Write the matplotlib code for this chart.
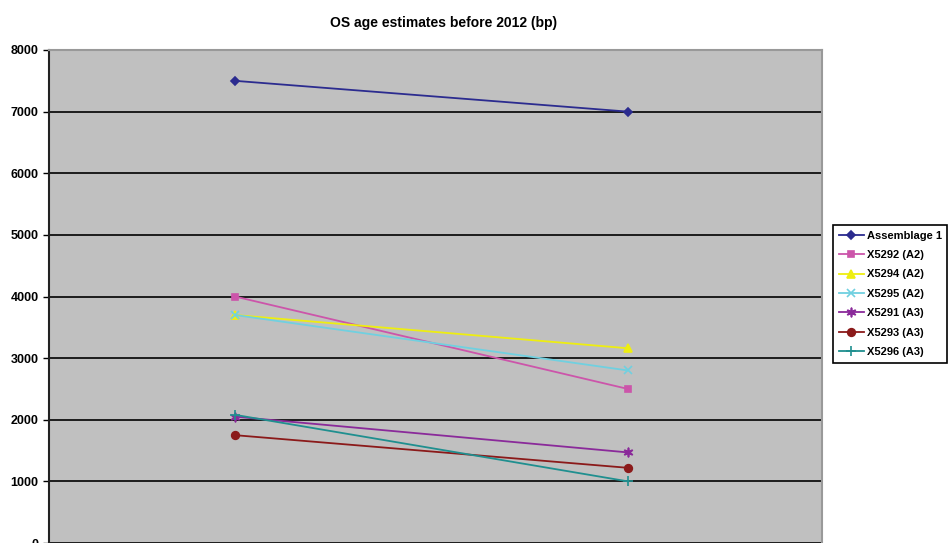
import matplotlib.pyplot as plt

plt.rcParams['font.family'] = ['Liberation Sans', 'DejaVu Sans']

# datos
categorias = [0, 1]
series = ["Assemblage 1", "X5292 (A2)", "X5294 (A2)", "X5295 (A2)",
          "X5291 (A3)", "X5293 (A3)", "X5296 (A3)"]
assemblage1 = [7500, 7000]
x5292 = [4000, 2500]
x5294 = [3700, 3160]
x5295 = [3700, 2800]
x5291 = [2050, 1470]
x5293 = [1750, 1220]
x5296 = [2080, 1000]
valores = [assemblage1, x5292, x5294, x5295, x5291, x5293, x5296]

colores = ["#2b2b8f", "#cc55aa", "#eeee10", "#70d0e0", "#8a2a9a", "#8b1a1a", "#1f8f8f"]
marcadores = ["D", "s", "^", "x", "$\u2736$", "o", "+"]
tamanos = [4.5, 5, 5.5, 5.5, 6.5, 5.5, 7]

fig = plt.figure(figsize=(9.53, 5.43), dpi=100)
ax = fig.add_axes([49 / 953, 0.0, 773 / 953, 493 / 543])
ax.set_facecolor("#c0c0c0")

for nombre, v, c, m, s in zip(series, valores, colores, marcadores, tamanos):
    ax.plot(categorias, v, color=c, marker=m, markersize=s, linewidth=1.3,
            markeredgewidth=1.2, label=nombre)

ax.set_xlim(-0.473, 1.494)
ax.set_ylim(0, 8000)
ax.set_yticks(range(0, 8001, 1000))
ax.set_xticks([])
ax.yaxis.grid(True, color="black", linewidth=1.2)
ax.set_axisbelow(True)
ax.tick_params(axis="y", length=4, width=1, labelsize=9)
for lab in ax.get_yticklabels():
    lab.set_fontweight("bold")
ax.spines["left"].set_color("#222222")
ax.spines["left"].set_linewidth(1.5)
for lado in ["top", "right"]:
    ax.spines[lado].set_color("#999999")
    ax.spines[lado].set_linewidth(1.5)
ax.spines["bottom"].set_visible(False)

fig.text(0.465, 0.957, "OS age estimates before 2012 (bp)", ha="center", va="center",
         fontsize=10, fontweight="bold")

leg = ax.legend(loc="upper left", bbox_to_anchor=(833 / 953, 318 / 543),
                bbox_transform=fig.transFigure, borderaxespad=0, fancybox=False,
                framealpha=1, edgecolor="black", fontsize=8, handlelength=2.3,
                handletextpad=0.25, labelspacing=0.85, borderpad=0.5)
leg.get_frame().set_linewidth(1.2)
for t in leg.get_texts():
    t.set_fontweight("bold")

plt.savefig("out.png", dpi=100)
